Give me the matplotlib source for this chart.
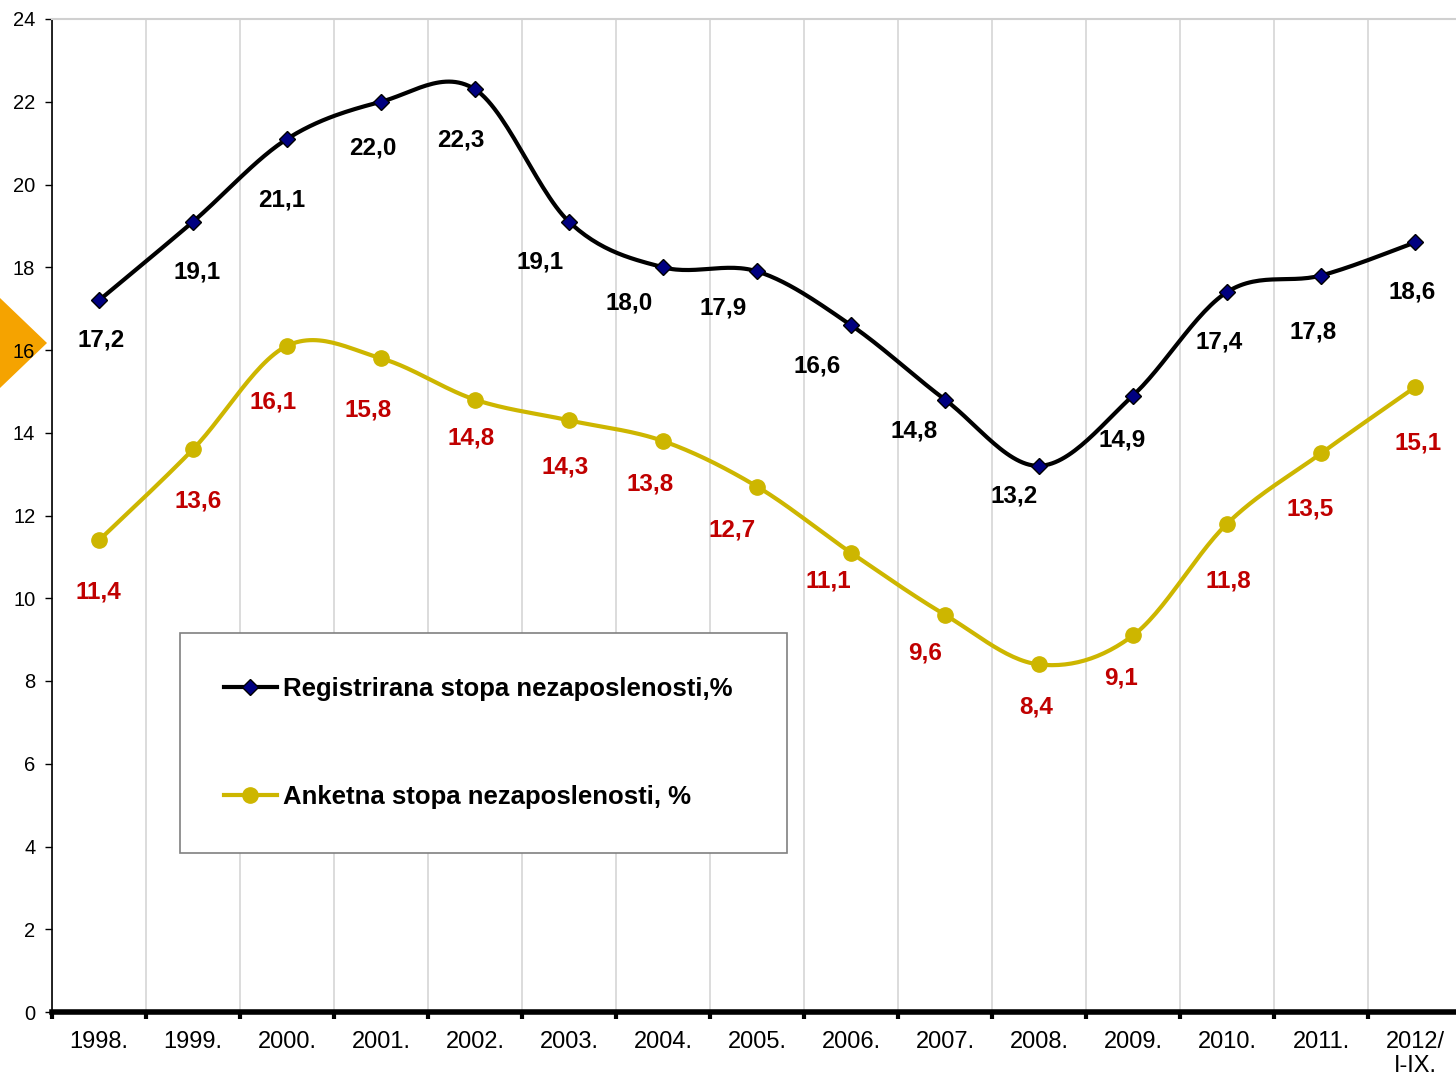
import matplotlib
matplotlib.use("Agg")
import matplotlib.pyplot as plt
from matplotlib.patches import Polygon
from matplotlib.lines import Line2D
import numpy as np

plt.rcParams['font.family'] = ['Liberation Sans', 'DejaVu Sans']

# Data
years = ['1998.', '1999.', '2000.', '2001.', '2002.', '2003.', '2004.', '2005.',
         '2006.', '2007.', '2008.', '2009.', '2010.', '2011.', '2012/\nI-IX.']
registered = [17.2, 19.1, 21.1, 22.0, 22.3, 19.1, 18.0, 17.9, 16.6, 14.8, 13.2, 14.9, 17.4, 17.8, 18.6]
survey = [11.4, 13.6, 16.1, 15.8, 14.8, 14.3, 13.8, 12.7, 11.1, 9.6, 8.4, 9.1, 11.8, 13.5, 15.1]

name_reg = 'Registrirana stopa nezaposlenosti,%'
name_svy = 'Anketna stopa nezaposlenosti, %'

# hand-placed label offsets (pixels, right / down from the point)
reg_dx = [2, 4, -5, -8, -14, -29, -34, -34, -34, -31, -25, -11, -8, -8, -3]
reg_dy = [40, 50, 61, 46, 51, 40, 36, 37, 41, 31, 30, 44, 50, 56, 50]
svy_dx = [-1, 5, -14, -13, -4, -4, -13, -25, -23, -20, -3, -12, 1, -11, 3]
svy_dy = [52, 52, 56, 52, 38, 47, 43, 43, 28, 38, 43, 43, 57, 56, 56]

black = '#000000'
navy = '#000080'
gold = '#CDB600'
red = '#C00000'


def smooth(x, y, n=30):
    # excel-like smoothed line (bezier through points)
    x = np.asarray(x, float)
    y = np.asarray(y, float)
    xs, ys = [], []
    for i in range(len(x) - 1):
        p0 = np.array([x[i], y[i]])
        p3 = np.array([x[i + 1], y[i + 1]])
        pm = np.array([x[max(i - 1, 0)], y[max(i - 1, 0)]])
        pp = np.array([x[min(i + 2, len(x) - 1)], y[min(i + 2, len(x) - 1)]])
        c1 = p0 + (p3 - pm) / 6
        c2 = p3 - (pp - p0) / 6
        t = np.linspace(0, 1, n)[:, None]
        pts = ((1 - t) ** 3) * p0 + 3 * ((1 - t) ** 2) * t * c1 + 3 * (1 - t) * t ** 2 * c2 + t ** 3 * p3
        xs.extend(pts[:, 0])
        ys.extend(pts[:, 1])
    return xs, ys


fig = plt.figure(figsize=(14.56, 10.77), dpi=100)
ax = fig.add_axes([52 / 1456, 1 - 1012 / 1077, 1410 / 1456, 993 / 1077])

# orange decoration on the left edge
fig.patches.append(Polygon([[0, 1 - 298 / 1077], [47 / 1456, 1 - 343 / 1077], [0, 1 - 388 / 1077]],
                           closed=True, transform=fig.transFigure, facecolor='#F5A300',
                           edgecolor='none', zorder=-1))

x = np.arange(len(years))

sx, sy = smooth(x, registered)
ax.plot(sx, sy, color=black, lw=3, zorder=3)
ax.plot(x, registered, ls='none', marker='D', ms=8.5, mfc=navy, mec=black, mew=1, zorder=4)

sx, sy = smooth(x, survey)
ax.plot(sx, sy, color=gold, lw=3, zorder=3)
ax.plot(x, survey, ls='none', marker='o', ms=11, mfc=gold, mec=gold, zorder=4)

px = 0.72  # pixels -> points
for xi, v, dx, dy in zip(x, registered, reg_dx, reg_dy):
    ax.annotate(f'{v:.1f}'.replace('.', ','), (xi, v), xytext=(dx * px, -dy * px),
                textcoords='offset points', ha='center', va='center',
                fontsize=17.5, fontweight='bold', color=black)
for xi, v, dx, dy in zip(x, survey, svy_dx, svy_dy):
    ax.annotate(f'{v:.1f}'.replace('.', ','), (xi, v), xytext=(dx * px, -dy * px),
                textcoords='offset points', ha='center', va='center',
                fontsize=17.5, fontweight='bold', color=red)

ax.set_xlim(-0.5, len(years) - 0.5)
ax.set_ylim(0, 24)
ax.set_yticks(range(0, 25, 2))
ax.tick_params(axis='y', labelsize=14.5, length=5, width=1, direction='out', pad=7)

# boundaries as major ticks, labels at centres
ax.set_xticks(np.arange(-0.5, len(years), 1))
ax.set_xticklabels([])
ax.set_xticks(x, minor=True)
ax.set_xticklabels(years, minor=True, fontsize=17, linespacing=1.1)
ax.tick_params(axis='x', which='major', length=5, width=3, direction='out')
ax.tick_params(axis='x', which='minor', length=0, pad=14)
ax.grid(axis='x', which='major', color='#D9D9D9', lw=1.3)
ax.set_axisbelow(True)

ax.spines['bottom'].set_linewidth(4)
ax.spines['left'].set_linewidth(1.2)
ax.spines['top'].set_color('#D0D0D0')
ax.spines['top'].set_linewidth(1.5)
ax.spines['right'].set_visible(False)

handles = [
    Line2D([], [], color=black, lw=3, marker='D', ms=8.5, mfc=navy, mec=black),
    Line2D([], [], color=gold, lw=3, marker='o', ms=11, mfc=gold, mec=gold),
]
leg = ax.legend(handles, [name_reg, name_svy], loc='upper left',
                bbox_to_anchor=(128 / 1410, 0, 607 / 1410, (1012 - 633) / 993), mode='expand',
                borderaxespad=0,
                prop={'weight': 'bold', 'size': 18.5},
                handlelength=2.06, handletextpad=0.23, labelspacing=3.28, borderpad=1.7,
                fancybox=False, framealpha=1, edgecolor='#808080')
leg.get_frame().set_linewidth(1.2)

fig.savefig('out.png', dpi=100)
